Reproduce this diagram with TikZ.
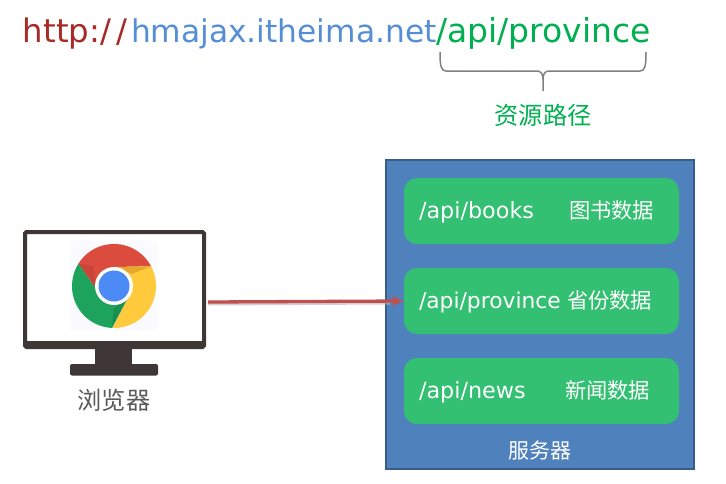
\documentclass[tikz,border=0pt]{standalone}
\usepackage{fontspec}
\setmainfont{DejaVu Sans}
\newfontfamily\cjk{Noto Sans CJK SC}
\usetikzlibrary{arrows.meta}
\definecolor{urlred}{HTML}{A82A26}
\definecolor{urlblue}{HTML}{558ED5}
\definecolor{urlgreen}{HTML}{00B050}
\definecolor{rowgreen}{HTML}{33C072}
\definecolor{srvblue}{HTML}{4F81BD}
\definecolor{srvedge}{HTML}{385D8A}
\definecolor{monitor}{HTML}{3F3736}
\definecolor{arrowred}{HTML}{C0504D}
\definecolor{cred}{HTML}{DB4C3F}
\definecolor{cgreen}{HTML}{1DA35B}
\definecolor{cyellow}{HTML}{FFCB3D}
\definecolor{cblue}{HTML}{4C8BF5}
\tikzset{
  txt/.style={inner sep=0pt,outer sep=0pt,anchor=base west},
  ctr/.style={inner sep=0pt,outer sep=0pt,anchor=base},
  row/.style={fill=rowgreen,rounded corners=13pt,inner sep=0pt,outer sep=0pt,minimum width=275pt,minimum height=66pt,anchor=north west},
  rowtext/.style={txt,text=white,font=\fontsize{22.3}{26}\selectfont},
  rowcjk/.style={txt,text=white,font=\fontsize{21.3}{26}\selectfont\cjk},
}
\begin{document}
\begin{tikzpicture}[x=1pt,y=-1pt]
\useasboundingbox (0,0) rectangle (726,483);
% URL
\node[txt,text=urlred,font=\fontsize{32.4}{38}\selectfont] (uhttp) at (23,42) {http:/\hspace{5.5pt}/};
\node[txt,text=urlblue,font=\fontsize{31.3}{38}\selectfont] (uhost) at (131,42) {hmajax.itheima.net};
\node[txt,text=urlgreen,font=\fontsize{33}{38}\selectfont] (upath) at (436,42) {/api/province};
% brace
\draw[color=black!50,line width=1.5pt] (440,52) .. controls (440,66) and (441,71) .. (446,71) -- (537,71) .. controls (541,71) and (543,74) .. (543,79) -- (543,91);
\draw[color=black!50,line width=1.5pt] (646,52) .. controls (646,66) and (645,71) .. (640,71) -- (549,71) .. controls (545,71) and (543,74) .. (543,79);
\node[ctr,text=urlgreen,font=\fontsize{24.2}{28}\selectfont\cjk] (respath) at (543,124) {资源路径};
% server
\node[draw=srvedge,line width=2.5pt,fill=srvblue,inner sep=0pt,outer sep=0pt,minimum width=308pt,minimum height=309pt,anchor=north west] (server) at (386,160) {};
\node[row] (r1) at (404,178) {};
\node[row] (r2) at (404,268) {};
\node[row] (r3) at (404,358) {};
\node[rowtext] (t1) at (419,218) {/api/books};
\node[rowcjk] (c1) at (569,218) {图书数据};
\node[rowtext,font=\fontsize{21.8}{26}\selectfont] (t2) at (419,308) {/api/province};
\node[rowcjk] (c2) at (567,308) {省份数据};
\node[rowtext] (t3) at (419,398) {/api/news};
\node[rowcjk] (c3) at (565,398) {新闻数据};
\node[ctr,text=white,font=\fontsize{21}{24}\selectfont\cjk] (srvlabel) at (540,458) {服务器};
% monitor
\fill[monitor,rounded corners=2pt] (70,364) rectangle (158,375.5);
\fill[monitor] (95,347) rectangle (132,365);
\node[draw=monitor,fill=white,line width=4pt,rounded corners=1.5pt,inner sep=0pt,outer sep=0pt,minimum width=179pt,minimum height=115pt,anchor=north west] (screen) at (25,232) {};
\fill[monitor] (25,341) rectangle (204,348);
% chrome icon
\fill[black!3!blue!2!white] (70,241) rectangle (157,330);
\begin{scope}[shift={(114,286)}]
  \fill[cred] (-35.6,-22.3) arc[start angle=212,end angle=332,radius=42] -- (0,-19) -- (-18,3) -- cycle;
  \fill[cyellow] (37.1,-19.7) arc[start angle=332,end angle=452,radius=42] -- (12.7,14) -- (16,0) -- (0,-19) -- cycle;
  \fill[cgreen] (-2,41.95) arc[start angle=92.7,end angle=212,radius=42] -- (-18,3) -- (0,19) -- (12.7,14) -- cycle;
  \fill[black!35!cred,opacity=.25] (-35.6,-22.3) -- (-18,3) -- (-21,-20) -- cycle;
  \fill[orange!70!black,opacity=.3] (37.1,-19.7) -- (0,-19) -- (18,-12) -- cycle;
  \fill[black!40!cgreen,opacity=.3] (-2,41.95) -- (12.7,14) -- (0,22) -- cycle;
  \fill[white] (0,0) circle[radius=19];
  \fill[cblue] (0,0) circle[radius=15.5];
\end{scope}
\node[ctr,text=black!65,font=\fontsize{24.2}{28}\selectfont\cjk] (browser) at (114,409) {浏览器};
% arrow
\coordinate (from) at (208,302);
\draw[black!30,line width=3pt,opacity=.6] (208,304) -- (390,303);
\draw[arrowred,line width=3.3pt,-{Latex[length=11pt,width=11pt]}] (from) -- (r2.west);
\end{tikzpicture}
\end{document}
